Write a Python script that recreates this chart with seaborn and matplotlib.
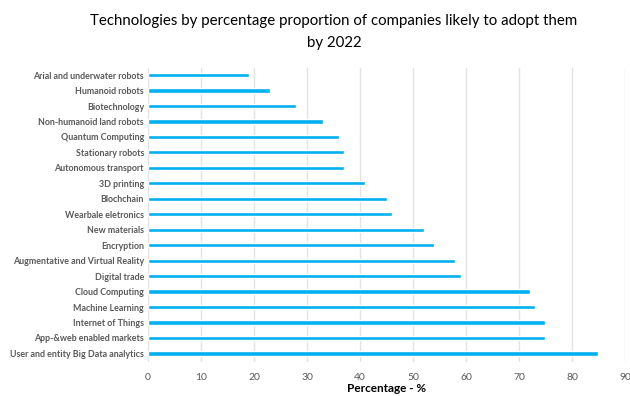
import pandas as pd
import matplotlib.pyplot as plt
import seaborn as sns

# data (top to bottom)
technologies = [
    "Arial and underwater robots", "Humanoid robots", "Biotechnology",
    "Non-humanoid land robots", "Quantum Computing", "Stationary robots",
    "Autonomous transport", "3D printing", "Blochchain", "Wearbale eletronics",
    "New materials", "Encryption", "Augmentative and Virtual Reality",
    "Digital trade", "Cloud Computing", "Machine Learning", "Internet of Things",
    "App-&web enabled markets", "User and entity Big Data analytics",
]
percentages = [19, 23, 28, 33, 36, 37, 37, 41, 45, 46,
               52, 54, 58, 59, 72, 73, 75, 75, 85]
x_ticks = [0, 10, 20, 30, 40, 50, 60, 70, 80, 90]

df = pd.DataFrame({"tech": technologies, "pct": percentages})

sns.set_style("white")
plt.rcParams["font.family"] = ["Lato", "DejaVu Sans"]

fig = plt.figure(figsize=(6.3, 3.96), dpi=100)
ax = fig.add_axes([0.235, 0.086, 0.757, 0.742])

sns.barplot(data=df, x="pct", y="tech", orient="h", color="#00B0F0",
            saturation=1, width=0.27, ax=ax, zorder=3)

ax.set_xlim(0, 90)
ax.set_ylim(18.55, -0.45)
ax.set_xticks(x_ticks)
ax.grid(axis="x", color="#e3e3e3", linewidth=1, zorder=0)
for s in ax.spines.values():
    s.set_visible(False)
ax.tick_params(axis="both", length=0)
ax.tick_params(axis="x", labelsize=7.5, labelcolor="#595959", pad=8)
ax.tick_params(axis="y", pad=3)
for lbl in ax.get_yticklabels():
    lbl.set_fontsize(6.4)
    lbl.set_color("#595959")
    lbl.set_fontweight("bold")

ax.set_ylabel("")
ax.set_xlabel("Percentage - %", fontsize=8.5, fontweight="bold",
              color="black", labelpad=1)

fig.suptitle("Technologies by percentage proportion of companies likely to adopt them\nby 2022",
             x=0.53, y=0.965, fontsize=10.8, color="black", linespacing=1.7)

fig.savefig("out.png", dpi=100)
